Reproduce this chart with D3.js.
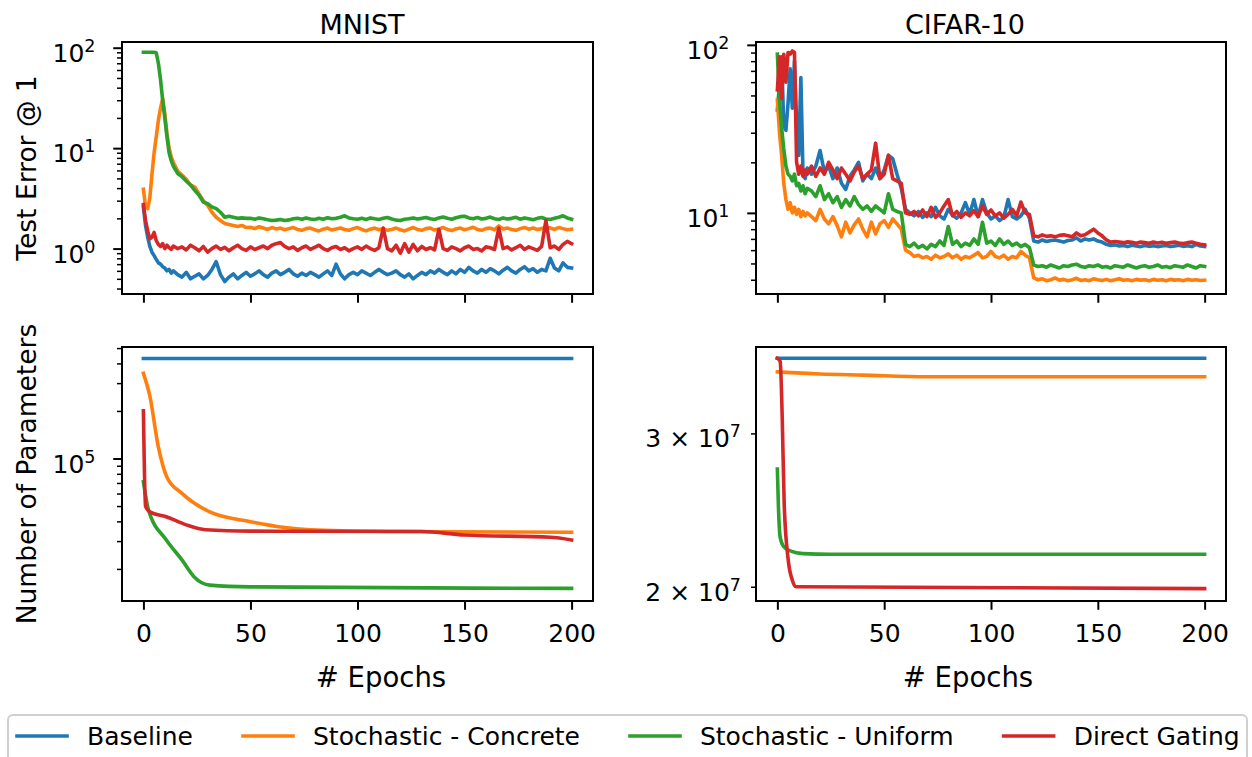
<!DOCTYPE html>
<html>
<head>
<meta charset="utf-8">
<script src="https://cdn.jsdelivr.net/npm/d3@7"></script>
<style>
  body { margin: 0; background: #fff; }
  svg { display: block; font-family: "DejaVu Sans", sans-serif; }
</style>
</head>
<body>
<svg id="chart" width="1252" height="757"></svg>
<script>
'use strict';

const seriesNames = ['Baseline', 'Stochastic - Concrete', 'Stochastic - Uniform', 'Direct Gating'];
const colors = ['#1f77b4', '#ff7f0e', '#2ca02c', '#d62728'];
const xTicks = [0, 50, 100, 150, 200];

// test error is read every epoch up to 14, then every 2nd epoch
const errEpochs = d3.range(0, 15).concat(d3.range(16, 201, 2));

// MNIST test error @ 1 (%)
const mnistErrBaseline = [
  2.6, 1.7, 1.3, 1.05, 0.92, 0.85, 0.78, 0.72, 0.7, 0.66, 0.64, 0.6, 0.62, 0.57, 0.6,
  0.55, 0.52, 0.58, 0.5, 0.53, 0.56, 0.5, 0.54, 0.62, 0.74,
  0.55, 0.47, 0.52, 0.56, 0.5, 0.54, 0.58, 0.53, 0.56, 0.6,
  0.55, 0.52, 0.57, 0.6, 0.55, 0.58, 0.62, 0.56, 0.53, 0.57,
  0.54, 0.58, 0.55, 0.52, 0.56, 0.6, 0.54, 0.7, 0.56, 0.5,
  0.55, 0.58, 0.55, 0.6, 0.57, 0.54, 0.58, 0.62, 0.58, 0.55,
  0.57, 0.6, 0.55, 0.52, 0.56, 0.5, 0.54, 0.58, 0.55, 0.6,
  0.57, 0.62, 0.58, 0.55, 0.6, 0.56, 0.62, 0.58, 0.65, 0.6,
  0.57, 0.62, 0.58, 0.63, 0.6, 0.56, 0.61, 0.65, 0.6, 0.57,
  0.62, 0.66, 0.6, 0.63, 0.58, 0.62, 0.6, 0.8, 0.64, 0.6,
  0.72, 0.65, 0.64
];
const mnistErrConcrete = [
  3.9, 2.6, 2.5, 3.2, 5.5, 9, 13, 19, 25, 31, 22, 14, 10, 8.2, 7.2,
  5.9, 5.4, 4.9, 4.3, 4.1, 3.5, 3.0, 2.7, 2.3, 2.05,
  1.9, 1.78, 1.74, 1.7, 1.66, 1.7, 1.62, 1.63, 1.58, 1.65,
  1.6, 1.55, 1.62, 1.57, 1.6, 1.54, 1.58, 1.62, 1.55, 1.52,
  1.58, 1.6, 1.54, 1.5, 1.56, 1.6, 1.53, 1.57, 1.6, 1.55,
  1.52, 1.58, 1.62, 1.55, 1.5, 1.56, 1.6, 1.54, 1.58, 1.52,
  1.55, 1.6, 1.54, 1.5, 1.56, 1.62, 1.55, 1.52, 1.58, 1.6,
  1.53, 1.57, 1.62, 1.55, 1.51, 1.57, 1.6, 1.54, 1.58, 1.63,
  1.55, 1.52, 1.58, 1.6, 1.54, 1.68, 1.57, 1.6, 1.55, 1.52,
  1.58, 1.62, 1.56, 1.6, 1.55, 1.58, 1.64, 1.6, 1.55, 1.62,
  1.58, 1.54, 1.56
];
const mnistErrUniform = [
  90, 90, 90, 90, 90, 90, 89, 70, 48, 30, 20, 13, 9, 7.5, 6.6,
  5.6, 5.2, 4.7, 4.3, 3.8, 3.4, 2.9, 2.8, 2.6, 2.5,
  2.3, 2.05, 2.1, 2.05, 2.0, 2.02, 2.0, 2.0, 1.96, 2.02,
  1.98, 1.94, 1.9, 1.92, 1.95, 1.9, 1.93, 1.98, 2.0, 1.96,
  2.02, 1.97, 1.95, 2.0, 1.96, 2.03, 1.98, 2.0, 2.05, 2.12,
  2.02, 1.98, 1.96, 2.0, 1.95, 2.02, 1.98, 1.95, 2.0, 2.04,
  1.97, 1.92, 1.9, 1.96, 1.98, 2.02, 1.97, 2.0, 2.04, 1.98,
  1.95, 2.02, 2.06, 2.0, 1.96, 2.03, 2.08, 2.1, 2.02, 1.98,
  2.04, 1.97, 2.0, 2.06, 1.98, 1.95, 2.02, 1.97, 2.0, 2.05,
  1.96, 2.02, 1.98, 1.94, 2.0, 2.04, 1.97, 1.95, 2.0, 2.05,
  2.12, 2.02, 1.96
];
const mnistErrGating = [
  2.75, 1.9, 1.5, 1.25, 1.3, 1.45, 1.2, 1.1, 1.05, 1.12, 1.0, 1.08, 1.02, 0.98, 1.06,
  1.0, 1.04, 0.97, 1.08, 1.02, 0.95, 1.05, 0.92, 1.0, 1.06,
  0.98, 1.03, 0.95, 1.02, 1.08, 1.0, 0.96, 1.04, 0.98, 1.02,
  1.06, 1.0, 1.08, 1.12, 1.15, 1.05, 1.0, 1.04, 0.96, 1.02,
  1.06, 0.98, 1.03, 1.08, 1.0, 0.96, 1.02, 1.05, 0.98, 1.02,
  0.95, 1.0, 1.04, 0.98, 1.06, 1.0, 0.96, 1.02, 1.6, 1.0,
  0.95, 1.08, 0.9, 1.12, 0.92, 1.1, 0.95, 1.05, 0.98, 1.02,
  0.97, 1.55, 1.0, 0.96, 1.04, 1.0, 0.95, 1.02, 1.06, 0.98,
  1.0, 0.95, 1.04, 1.02, 0.98, 1.6, 1.0, 1.04, 0.97, 1.02,
  1.08, 0.98, 1.04, 1.0, 0.96, 1.05, 1.9, 1.02, 1.06, 0.98,
  1.1, 1.18, 1.12
];

// CIFAR-10 test error @ 1 (%)
const cifarErrBaseline = [
  41, 58, 85, 33, 31, 45, 72, 42, 80, 35, 22, 64, 17, 16, 18.5,
  17, 19, 23.5, 17.5, 19, 16, 18.5, 15, 13.8, 16.5,
  18, 20, 15.5, 17, 16, 18.5, 16, 18, 22, 21,
  17, 14, 10.5, 10, 9.6, 10.2, 9.4, 10, 9.5, 10.8,
  9.6, 9.2, 10.5, 9.7, 9.3, 10, 11.5, 9.8, 12, 9.5,
  12, 10, 9.2, 9.6, 9.0, 9.4, 12, 9.5, 9.2, 9.6,
  10.5, 9.3, 6.8, 6.7, 6.9, 6.75, 6.85, 6.9, 6.8, 6.7,
  6.85, 6.9, 7.1, 6.8, 7.0, 6.9, 7.0, 6.8, 6.7, 6.5,
  6.4, 6.45, 6.35, 6.4, 6.3, 6.42, 6.35, 6.3, 6.4, 6.32,
  6.38, 6.3, 6.35, 6.4, 6.3, 6.36, 6.42, 6.32, 6.38, 6.3,
  6.5, 6.35, 6.3
];
const cifarErrConcrete = [
  47, 30, 22, 15, 12, 10.5, 11.5, 10, 10.8, 9.8, 10.5, 9.5, 10.2, 9.6, 10,
  9.5, 9.0, 10.5, 9.2, 8.6, 9.5, 8.4, 7.2, 8.8, 7.6,
  8.5, 9.2, 8.0, 7.2, 8.8, 7.5, 8.6, 9.0, 8.2, 9.2,
  8.6, 8.0, 6.0, 5.8, 5.5, 5.6, 5.4, 5.5, 5.3, 5.6,
  5.4, 5.5, 5.7, 5.4, 5.6, 5.3, 5.5, 5.4, 5.6, 5.8,
  5.4, 5.5, 5.9, 5.5, 5.4, 5.6, 5.3, 5.5, 5.4, 5.9,
  5.6, 5.4, 4.1, 4.0, 4.05, 3.95, 4.0, 4.1, 3.98, 4.02,
  3.95, 4.0, 4.08, 3.96, 4.0, 3.95, 4.05, 4.0, 3.96, 4.02,
  3.95, 4.0, 4.06, 3.97, 4.0, 3.95, 4.02, 3.98, 4.0, 3.94,
  4.02, 3.97, 4.0, 3.95, 4.02, 3.98, 4.0, 3.95, 4.02, 3.97,
  4.0, 3.96, 3.98
];
const cifarErrUniform = [
  88, 47, 32, 24, 19, 17, 16.5, 15.5, 17, 14.5, 15, 13.5, 14.5, 13, 14,
  13.5, 12.5, 14.5, 12, 13, 11.5, 12.5, 10.8, 12, 11,
  12.5, 11.2, 10.5, 11, 10.2, 11, 10.5, 10, 13, 10.5,
  10.2, 10, 6.5, 6.3, 6.6, 6.2, 6.4, 6.1, 6.5, 6.3,
  6.8, 6.4, 8.3, 6.5, 6.8, 6.3, 6.6, 6.4, 7.0, 6.5,
  8.8, 6.6, 6.8, 6.4, 7.0, 6.5, 6.8, 6.4, 6.6, 6.3,
  6.5, 6.2, 4.9, 4.8, 4.85, 4.75, 4.9, 4.8, 4.7, 4.85,
  4.8, 4.9, 4.95, 4.8, 4.75, 4.85, 4.8, 4.9, 4.75, 4.8,
  4.7, 4.85, 4.8, 4.75, 4.9, 4.8, 4.7, 4.8, 4.85, 4.75,
  4.8, 4.9, 4.75, 4.8, 4.72, 4.85, 4.8, 4.75, 4.9, 4.8,
  4.7, 4.85, 4.8
];
const cifarErrGating = [
  54, 85, 48, 88, 60, 90, 88, 92, 90, 20, 17, 19, 16.5, 18, 17,
  19, 16.5, 18.5, 17, 20, 18, 16, 18.5, 17, 15.5,
  17.5, 19, 16, 17, 18, 26, 16, 17, 22, 16,
  15.5, 15, 10, 9.8, 10.2, 9.6, 10.4, 9.5, 10.8, 9.4,
  10, 11, 12, 9.6, 10.2, 9.4, 10, 9.6, 10.3, 9.5,
  11, 9.8, 10.4, 9.6, 10, 9.3, 9.8, 10.5, 9.6, 11.6,
  10, 9.8, 7.3, 7.2, 7.4, 7.25, 7.3, 7.2, 7.35, 7.4,
  7.3, 7.2, 7.6, 7.3, 7.4, 7.7, 8.0, 7.6, 7.3, 6.9,
  6.7, 6.75, 6.7, 6.65, 6.72, 6.68, 6.6, 6.7, 6.65, 6.6,
  6.7, 6.62, 6.68, 6.6, 6.65, 6.7, 6.62, 6.58, 6.65, 6.7,
  6.6, 6.5, 6.45
];

// number of parameters, read at the bends of each curve
const mnistParBaselineEp = [0, 200];
const mnistParBaseline = [430000, 430000];
const mnistParConcreteEp = [0, 3, 7, 11, 18, 31, 50, 63, 81, 120, 200];
const mnistParConcrete = [346000, 249000, 118000, 76200, 60200, 45900, 39800, 37000, 35300, 34500, 34100];
const mnistParUniformEp = [0, 2.4, 10.7, 18, 23.7, 31, 50, 200];
const mnistParUniform = [71300, 47200, 30500, 22800, 17800, 15800, 15400, 15070];
const mnistParGatingEp = [0, 1, 3, 10.7, 20, 29, 50, 130, 150, 190, 200];
const mnistParGating = [200600, 50000, 45900, 42800, 38000, 35400, 34700, 34500, 32800, 31700, 30500];

const cifarParBaselineEp = [0, 200];
const cifarParBaseline = [3.66e7, 3.66e7];
const cifarParConcreteEp = [0, 20, 40, 70, 200];
const cifarParConcrete = [3.53e7, 3.51e7, 3.5e7, 3.485e7, 3.485e7];
const cifarParUniformEp = [0, 0.5, 1.3, 3, 6, 12, 25, 200];
const cifarParUniform = [2.73e7, 2.47e7, 2.282e7, 2.223e7, 2.199e7, 2.183e7, 2.179e7, 2.179e7];
const cifarParGatingEp = [0, 1.3, 2.3, 3.2, 5.1, 7, 8.8, 200];
const cifarParGating = [3.66e7, 3.63e7, 3.11e7, 2.49e7, 2.145e7, 2.035e7, 2.0e7, 1.99e7];

const svg = d3.select('#chart');
const FS = 25;         // tick labels, legend
const FS_LABEL = 26.5; // y labels
const FS_TITLE = 27;
const FS_XLABEL = 27.5;

function pack(epochs, values) {
    return epochs.map((ep, i) => ({ ep: ep, v: values[i] }));
}

// titleX / xlabelX: text centres as they sit in the picture
const panels = [
    {
        left: 122, right: 593, top: 42, bottom: 294, yDomain: [0.353, 114],
        title: 'MNIST', titleX: 362, ylabel: 'Test Error @ 1', xLabels: false, yLabels: 'decade', curve: d3.curveLinear,
        lines: [mnistErrBaseline, mnistErrConcrete, mnistErrUniform, mnistErrGating].map(v => pack(errEpochs, v))
    },
    {
        left: 756, right: 1226, top: 42, bottom: 294, yDomain: [3.29, 104],
        title: 'CIFAR-10', titleX: 965, ylabel: null, xLabels: false, yLabels: 'decade', curve: d3.curveLinear,
        lines: [cifarErrBaseline, cifarErrConcrete, cifarErrUniform, cifarErrGating].map(v => pack(errEpochs, v))
    },
    {
        left: 122, right: 593, top: 347, bottom: 601, yDomain: [12530, 508000],
        title: null, ylabel: 'Number of Parameters', xLabels: true, xlabelX: 381, yLabels: 'decade', curve: d3.curveMonotoneX,
        lines: [
            pack(mnistParBaselineEp, mnistParBaseline),
            pack(mnistParConcreteEp, mnistParConcrete),
            pack(mnistParUniformEp, mnistParUniform),
            pack(mnistParGatingEp, mnistParGating)
        ]
    },
    {
        left: 756, right: 1226, top: 347, bottom: 601, yDomain: [1.926e7, 3.77e7],
        title: null, ylabel: null, xLabels: true, xlabelX: 968, yLabels: 'minor', curve: d3.curveMonotoneX,
        lines: [
            pack(cifarParBaselineEp, cifarParBaseline),
            pack(cifarParConcreteEp, cifarParConcrete),
            pack(cifarParUniformEp, cifarParUniform),
            pack(cifarParGatingEp, cifarParGating)
        ]
    }
];

function logTicks(domain) {
    const lo = Math.floor(Math.log10(domain[0]));
    const hi = Math.ceil(Math.log10(domain[1]));
    const major = [], minor = [];
    for (let e = lo; e <= hi; e++) {
        const b = Math.pow(10, e);
        if (b >= domain[0] && b <= domain[1]) major.push(b);
        for (let m = 2; m < 10; m++) {
            const v = m * b;
            if (v >= domain[0] && v <= domain[1]) minor.push(v);
        }
    }
    return { major: major, minor: minor };
}

// mathtext-like label: [mantissa ×] 10^exp
function sciLabel(g, x, y, value, anchor) {
    const exp = Math.floor(Math.log10(value) + 1e-9);
    const mant = Math.round(value / Math.pow(10, exp));
    const t = g.append('text')
        .attr('x', x).attr('y', y)
        .attr('text-anchor', anchor)
        .style('font-size', FS + 'px')
        .attr('fill', '#000');
    t.append('tspan').text(mant === 1 ? '10' : mant + ' \u00d7 10');
    t.append('tspan').attr('dy', -10).style('font-size', (FS * 0.7) + 'px').text(exp);
}

panels.forEach((p, pi) => {
    const x = d3.scaleLinear().domain([-10, 210]).range([p.left, p.right]);
    const y = d3.scaleLog().domain(p.yDomain).range([p.bottom, p.top]);
    const g = svg.append('g');

    const clipId = 'clip' + pi;
    svg.append('clipPath').attr('id', clipId)
        .append('rect')
        .attr('x', p.left).attr('y', p.top)
        .attr('width', p.right - p.left).attr('height', p.bottom - p.top);

    const line = d3.line()
        .x(d => x(d.ep))
        .y(d => y(d.v))
        .curve(p.curve);

    const lg = g.append('g').attr('clip-path', 'url(#' + clipId + ')');
    p.lines.forEach((data, i) => {
        lg.append('path')
            .datum(data)
            .attr('d', line)
            .attr('fill', 'none')
            .attr('stroke', colors[i])
            .attr('stroke-width', 3.6)
            .attr('stroke-linejoin', 'round')
            .attr('stroke-linecap', 'square');
    });

    // x axis
    const xAxis = d3.axisBottom(x)
        .tickValues(xTicks)
        .tickSize(8.75)
        .tickPadding(14)
        .tickFormat(p.xLabels ? d3.format('d') : '');
    const xg = g.append('g')
        .attr('transform', 'translate(0,' + p.bottom + ')')
        .call(xAxis);
    xg.select('.domain').remove();
    xg.selectAll('line').attr('stroke-width', 2);
    xg.selectAll('text')
        .style('font-size', FS + 'px')
        .style('font-family', '"DejaVu Sans", sans-serif')
        .attr('fill', '#000');

    // y axis (log)
    const ticks = logTicks(p.yDomain);
    const yMinor = g.append('g')
        .attr('transform', 'translate(' + p.left + ',0)')
        .call(d3.axisLeft(y).tickValues(ticks.minor).tickSize(5).tickFormat(''));
    yMinor.select('.domain').remove();
    yMinor.selectAll('line').attr('stroke-width', 1.5);

    const yMajor = g.append('g')
        .attr('transform', 'translate(' + p.left + ',0)')
        .call(d3.axisLeft(y).tickValues(ticks.major).tickSize(8.75).tickFormat(''));
    yMajor.select('.domain').remove();
    yMajor.selectAll('line').attr('stroke-width', 2);

    const labelVals = p.yLabels === 'decade' ? ticks.major : ticks.minor;
    const labelOff = p.yLabels === 'decade' ? 26.5 : 15;
    labelVals.forEach(v => sciLabel(g, p.left - labelOff, y(v) + 14, v, 'end'));

    // frame
    g.append('rect')
        .attr('x', p.left).attr('y', p.top)
        .attr('width', p.right - p.left).attr('height', p.bottom - p.top)
        .attr('fill', 'none')
        .attr('stroke', '#000')
        .attr('stroke-width', 2);

    if (p.title) {
        g.append('text')
            .attr('x', p.titleX).attr('y', 33.5)
            .attr('text-anchor', 'middle')
            .style('font-size', FS_TITLE + 'px')
            .text(p.title);
    }
    if (p.ylabel) {
        g.append('text')
            .attr('transform', 'translate(36,' + ((p.top + p.bottom) / 2) + ') rotate(-90)')
            .attr('text-anchor', 'middle')
            .style('font-size', FS_LABEL + 'px')
            .text(p.ylabel);
    }
    if (p.xLabels) {
        g.append('text')
            .attr('x', p.xlabelX).attr('y', 687)
            .attr('text-anchor', 'middle')
            .style('font-size', FS_XLABEL + 'px')
            .text('# Epochs');
    }
});

// legend across the bottom
const legend = svg.append('g');
legend.append('rect')
    .attr('x', 8).attr('y', 715)
    .attr('width', 1239).attr('height', 60)
    .attr('rx', 5)
    .attr('fill', '#fff')
    .attr('stroke', '#d0d0d0')
    .attr('stroke-width', 2);

let lx = 17;
seriesNames.forEach((name, i) => {
    legend.append('line')
        .attr('x1', lx).attr('x2', lx + 50)
        .attr('y1', 736).attr('y2', 736)
        .attr('stroke', colors[i])
        .attr('stroke-width', 3.6)
        .attr('stroke-linecap', 'square');
    const t = legend.append('text')
        .attr('x', lx + 70).attr('y', 744.5)
        .style('font-size', FS + 'px')
        .text(name);
    lx += 70 + t.node().getComputedTextLength() + 50;
});
</script>
</body>
</html>
